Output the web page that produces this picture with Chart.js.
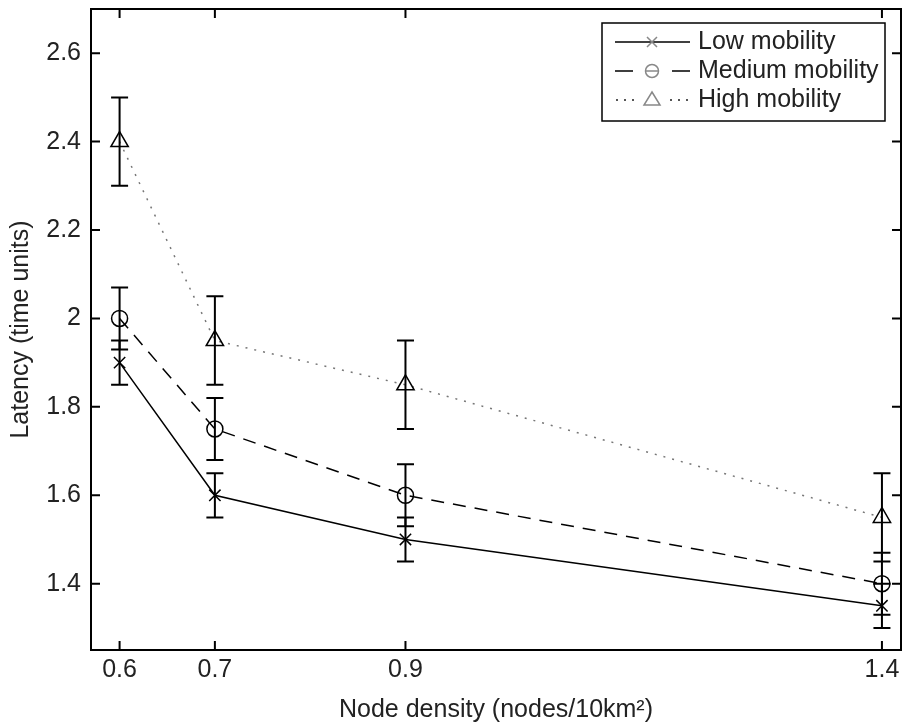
<!DOCTYPE html>
<html>
<head>
<meta charset="utf-8">
<script src="https://cdn.jsdelivr.net/npm/chart.js@4/dist/chart.umd.min.js"></script>
<style>
  body { margin: 0; background: #fff; }
  #wrap { width: 902px; height: 727px; position: relative; }
</style>
</head>
<body>
<div id="wrap"><canvas id="myChart"></canvas></div>
<script>
// node density values on the x axis
var densities = [0.6, 0.7, 0.9, 1.4];
var xTicks = [0.6, 0.7, 0.9, 1.4];
var xTickLabels = ['0.6', '0.7', '0.9', '1.4'];
var yTicks = [1.4, 1.6, 1.8, 2.0, 2.2, 2.4, 2.6];
var yTickLabels = ['1.4', '1.6', '1.8', '2', '2.2', '2.4', '2.6'];

// latency means and error bar half-heights
var lowMobility = [1.9, 1.6, 1.5, 1.35];
var lowErr = [0.05, 0.05, 0.05, 0.05];
var mediumMobility = [2.0, 1.75, 1.6, 1.4];
var mediumErr = [0.07, 0.07, 0.07, 0.07];
var highMobility = [2.4, 1.95, 1.85, 1.55];
var highErr = [0.1, 0.1, 0.1, 0.1];

var seriesNames = ['Low mobility', 'Medium mobility', 'High mobility'];

var FONT = "'Liberation Sans', Arial, sans-serif";
var TEXT = '#222';
var FS = 25;

function toPoints(ys) {
    return densities.map(function (x, i) { return { x: x, y: ys[i] }; });
}

// error bars, drawn through the chart's own scales
var errorBars = {
    id: 'errorBars',
    afterDatasetsDraw: function (chart) {
        var ctx = chart.ctx;
        var xs = chart.scales.x, ys = chart.scales.y;
        var errs = [lowErr, mediumErr, highErr];
        var means = [lowMobility, mediumMobility, highMobility];
        ctx.save();
        ctx.strokeStyle = '#000';
        ctx.lineWidth = 2;
        ctx.setLineDash([]);
        for (var s = 0; s < 3; s++) {
            for (var i = 0; i < densities.length; i++) {
                var px = xs.getPixelForValue(densities[i]);
                var top = ys.getPixelForValue(means[s][i] + errs[s][i]);
                var bot = ys.getPixelForValue(means[s][i] - errs[s][i]);
                ctx.beginPath();
                ctx.moveTo(px, top); ctx.lineTo(px, bot);
                ctx.moveTo(px - 8.5, top); ctx.lineTo(px + 8.5, top);
                ctx.moveTo(px - 8.5, bot); ctx.lineTo(px + 8.5, bot);
                ctx.stroke();
            }
        }
        ctx.restore();
    }
};

// box around the plot plus inward ticks on all four sides
var axesBox = {
    id: 'axesBox',
    afterDraw: function (chart) {
        var ctx = chart.ctx, a = chart.chartArea;
        var xs = chart.scales.x, ys = chart.scales.y;
        ctx.save();
        ctx.strokeStyle = '#000';
        ctx.lineWidth = 2;
        ctx.setLineDash([]);
        ctx.strokeRect(a.left, a.top, a.right - a.left, a.bottom - a.top);
        ctx.beginPath();
        xTicks.forEach(function (v) {
            var px = xs.getPixelForValue(v);
            ctx.moveTo(px, a.bottom); ctx.lineTo(px, a.bottom - 9);
            ctx.moveTo(px, a.top); ctx.lineTo(px, a.top + 9);
        });
        yTicks.forEach(function (v) {
            var py = ys.getPixelForValue(v);
            ctx.moveTo(a.left, py); ctx.lineTo(a.left + 9, py);
            ctx.moveTo(a.right, py); ctx.lineTo(a.right - 9, py);
        });
        ctx.stroke();
        ctx.restore();
    }
};

// legend box in the top right, drawn like the original
var legendBox = {
    id: 'legendBox',
    afterDraw: function (chart) {
        var ctx = chart.ctx;
        var bx = 602, by = 23, bw = 283, bh = 98;
        ctx.save();
        ctx.fillStyle = '#fff';
        ctx.fillRect(bx, by, bw, bh);
        ctx.strokeStyle = '#000';
        ctx.lineWidth = 1.5;
        ctx.strokeRect(bx, by, bw, bh);

        var rows = [42, 71, 100];
        var x0 = 615, x1 = 690, mx = 652;
        ctx.lineWidth = 1.5;
        // low: solid line with x
        ctx.strokeStyle = '#000';
        ctx.beginPath(); ctx.moveTo(x0, rows[0]); ctx.lineTo(x1, rows[0]); ctx.stroke();
        ctx.strokeStyle = '#888';
        ctx.beginPath();
        ctx.moveTo(mx - 5, rows[0] - 5); ctx.lineTo(mx + 5, rows[0] + 5);
        ctx.moveTo(mx + 5, rows[0] - 5); ctx.lineTo(mx - 5, rows[0] + 5);
        ctx.stroke();
        // medium: dashes and circle
        ctx.strokeStyle = '#000';
        ctx.beginPath();
        ctx.moveTo(x0, rows[1]); ctx.lineTo(x0 + 18, rows[1]);
        ctx.moveTo(x1 - 18, rows[1]); ctx.lineTo(x1, rows[1]);
        ctx.stroke();
        ctx.strokeStyle = '#888';
        ctx.beginPath(); ctx.arc(mx, rows[1], 6.5, 0, Math.PI * 2); ctx.stroke();
        ctx.beginPath(); ctx.moveTo(mx - 6.5, rows[1]); ctx.lineTo(mx + 6.5, rows[1]); ctx.stroke();
        // high: dots and triangle
        ctx.fillStyle = '#555';
        [617, 625, 633, 671, 679, 687].forEach(function (dx) {
            ctx.fillRect(dx - 1, rows[2] - 1, 2, 2);
        });
        ctx.strokeStyle = '#888';
        ctx.beginPath();
        ctx.moveTo(mx, rows[2] - 8); ctx.lineTo(mx + 8, rows[2] + 5); ctx.lineTo(mx - 8, rows[2] + 5);
        ctx.closePath(); ctx.stroke();

        ctx.fillStyle = TEXT;
        ctx.font = FS + 'px ' + FONT;
        ctx.textAlign = 'left';
        ctx.textBaseline = 'middle';
        seriesNames.forEach(function (n, i) { ctx.fillText(n, 698, rows[i]); });
        ctx.restore();
    }
};

var ctx = document.getElementById('myChart').getContext('2d');
var myChart = new Chart(ctx, {
    type: 'line',
    data: {
        datasets: [{
            label: seriesNames[0],
            data: toPoints(lowMobility),
            borderColor: '#000',
            borderWidth: 1.5,
            pointStyle: 'crossRot',
            pointRadius: 8,
            pointBorderColor: '#000',
            pointBorderWidth: 1.5,
            fill: false,
            tension: 0
        },
        {
            label: seriesNames[1],
            data: toPoints(mediumMobility),
            borderColor: '#000',
            borderWidth: 1.5,
            borderDash: [13, 9],
            pointStyle: 'circle',
            pointRadius: 8,
            pointBackgroundColor: 'rgba(0,0,0,0)',
            pointBorderColor: '#000',
            pointBorderWidth: 1.5,
            fill: false,
            tension: 0
        },
        {
            label: seriesNames[2],
            data: toPoints(highMobility),
            borderColor: '#777',
            borderWidth: 1.5,
            borderDash: [2, 7],
            pointStyle: 'triangle',
            pointRadius: 10,
            pointBackgroundColor: 'rgba(0,0,0,0)',
            pointBorderColor: '#000',
            pointBorderWidth: 1.5,
            fill: false,
            tension: 0
        }]
    },
    options: {
        responsive: true,
        maintainAspectRatio: false,
        animation: false,
        layout: { autoPadding: false, padding: { top: 9, right: 1, left: 0, bottom: 0 } },
        plugins: {
            legend: { display: false },
            tooltip: { enabled: false }
        },
        scales: {
            x: {
                type: 'linear',
                min: 0.57,
                max: 1.42,
                afterBuildTicks: function (scale) {
                    scale.ticks = xTicks.map(function (v) { return { value: v }; });
                },
                afterFit: function (scale) {
                    scale.height = 77;
                    scale.paddingLeft = 0;
                    scale.paddingRight = 0;
                },
                grid: { display: false, drawTicks: false },
                border: { display: false },
                ticks: {
                    padding: 5,
                    color: TEXT,
                    font: { family: FONT, size: FS },
                    callback: function (v) { return xTickLabels[xTicks.indexOf(v)]; }
                },
                title: {
                    display: true,
                    text: 'Node density (nodes/10km²)',
                    color: TEXT,
                    font: { family: FONT, size: FS },
                    padding: { top: 0, bottom: 2 }
                }
            },
            y: {
                min: 1.25,
                max: 2.7,
                afterBuildTicks: function (scale) {
                    scale.ticks = yTicks.map(function (v) { return { value: v }; });
                },
                afterFit: function (scale) {
                    scale.width = 91;
                    scale.paddingTop = 0;
                    scale.paddingBottom = 0;
                },
                grid: { display: false, drawTicks: false },
                border: { display: false },
                ticks: {
                    padding: 10,
                    color: TEXT,
                    font: { family: FONT, size: FS },
                    callback: function (v) { return yTickLabels[yTicks.indexOf(v)]; }
                },
                title: {
                    display: true,
                    text: 'Latency (time units)',
                    color: TEXT,
                    font: { family: FONT, size: FS },
                    padding: { top: 6, bottom: 0 }
                }
            }
        }
    },
    plugins: [errorBars, axesBox, legendBox]
});
</script>
</body>
</html>
